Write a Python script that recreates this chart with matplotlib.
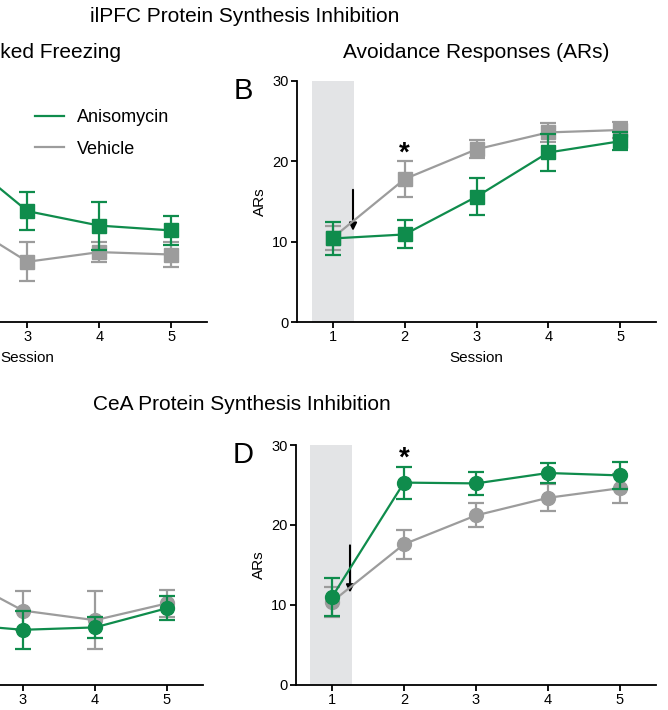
import matplotlib
matplotlib.use("Agg")
import matplotlib.pyplot as plt
from matplotlib.lines import Line2D
import numpy as np

plt.rcParams['font.family'] = ['Liberation Sans', 'DejaVu Sans']

W, H = 668, 710
GREEN = '#0f8c4c'
GRAY = '#9c9c9c'
SHADE = '#e3e4e6'

sessions = [1, 2, 3, 4, 5]
session_labels = ['1', '2', '3', '4', '5']
series_names = ['Anisomycin', 'Vehicle']

# Panel A: ilPFC freezing (%)
a_aniso = [62, 70.5, 46, 40, 38]
a_aniso_err = [8, 8, 8, 10, 6]
a_veh = [58, 43.6, 25, 29, 28]
a_veh_err = [7, 7, 8, 4, 5]

# Panel B: ilPFC ARs
b_aniso = [10.4, 10.9, 15.6, 21.1, 22.5]
b_aniso_err = [2.1, 1.75, 2.3, 2.3, 1.1]
b_veh = [10.5, 17.8, 21.5, 23.6, 23.9]
b_veh_err = [1.5, 2.2, 1.1, 1.2, 1.0]

# Panel C: CeA freezing (%)
c_aniso = [60, 25.5, 23, 24, 32]
c_aniso_err = [8, 6, 8, 4.5, 5]
c_veh = [58, 47, 31, 27, 34]
c_veh_err = [8, 8, 8, 12, 5.5]

# Panel D: CeA ARs
d_aniso = [11.0, 25.3, 25.2, 26.5, 26.2]
d_aniso_err = [2.4, 2.0, 1.4, 1.3, 1.7]
d_veh = [10.4, 17.6, 21.2, 23.4, 24.6]
d_veh_err = [1.9, 1.8, 1.5, 1.7, 1.8]

fig = plt.figure(figsize=(W / 100, H / 100), dpi=100)


def ax_px(left, right, top, bottom):
    return fig.add_axes([left / W, 1 - bottom / H, (right - left) / W, (bottom - top) / H])


def style(ax, ylim, yticks, cropped=False):
    ax.set_xlim(0.5, 5.5)
    ax.set_ylim(*ylim)
    ax.set_xticks(sessions)
    ax.set_yticks(yticks)
    if cropped:
        # labels lying outside the visible (cropped) region are left blank
        ax.set_yticklabels([])
        ax.set_xticklabels(['', ''] + session_labels[2:])
    else:
        ax.set_xticklabels(session_labels)
    for s in ['top', 'right']:
        ax.spines[s].set_visible(False)
    for s in ['left', 'bottom']:
        ax.spines[s].set_linewidth(1.3)
    ax.tick_params(direction='out', length=4, width=1.3, labelsize=10.5, pad=2)
    ax.patch.set_alpha(0)


def draw(ax, aniso, aerr, veh, verr, marker):
    ax.errorbar(sessions, veh, yerr=verr, color=GRAY, marker=marker, markersize=10,
                lw=1.6, elinewidth=1.6, capsize=6, capthick=1.6, zorder=3)
    ax.errorbar(sessions, aniso, yerr=aerr, color=GREEN, marker=marker, markersize=10,
                lw=1.6, elinewidth=1.6, capsize=6, capthick=1.6, zorder=4)


# Panel A (mostly cropped)
axA = ax_px(-152, 207, 81, 322)
style(axA, (0, 100), [0, 25, 50, 75, 100], cropped=True)
draw(axA, a_aniso, a_aniso_err, a_veh, a_veh_err, 's')
axA.set_xlabel('Session', fontsize=11, labelpad=5)

# Panel B
axB = ax_px(297, 656, 81, 322)
style(axB, (0, 30), [0, 10, 20, 30])
axB.axvspan(0.71, 1.29, ymin=0, ymax=1.012, color=SHADE, zorder=0, lw=0)
draw(axB, b_aniso, b_aniso_err, b_veh, b_veh_err, 's')
axB.set_xlabel('Session', fontsize=11, labelpad=5)
axB.set_ylabel('ARs', fontsize=11, labelpad=4)
axB.annotate('', xy=(1.28, 11.0), xytext=(1.28, 16.8),
             arrowprops=dict(arrowstyle='-|>', color='black', lw=1.5, mutation_scale=11))
axB.text(2, 21.0, '*', ha='center', va='center', fontsize=20, fontweight='bold')

# Panel C (mostly cropped)
axC = ax_px(-157, 203, 445, 685)
style(axC, (0, 100), [0, 25, 50, 75, 100], cropped=True)
draw(axC, c_aniso, c_aniso_err, c_veh, c_veh_err, 'o')

# Panel D
axD = ax_px(296, 656, 445, 685)
style(axD, (0, 30), [0, 10, 20, 30])
axD.axvspan(0.7, 1.28, ymin=0, ymax=1.006, color=SHADE, zorder=0, lw=0)
draw(axD, d_aniso, d_aniso_err, d_veh, d_veh_err, 'o')
axD.set_ylabel('ARs', fontsize=11, labelpad=4)
axD.annotate('', xy=(1.25, 11.2), xytext=(1.25, 17.8),
             arrowprops=dict(arrowstyle='-|>', color='black', lw=1.5, mutation_scale=11))
axD.text(2, 28.3, '*', ha='center', va='center', fontsize=20, fontweight='bold')

# Legend in panel A
handles = [Line2D([], [], color=GREEN, lw=1.6), Line2D([], [], color=GRAY, lw=1.6)]
fig.legend(handles, series_names, loc='center left', frameon=False, fontsize=13,
           bbox_to_anchor=(28 / W, 1 - 133.5 / H), handlelength=1.6, handletextpad=0.7,
           labelspacing=0.8, borderaxespad=0)


def ftext(x, y, s, **kw):
    fig.text(x / W, 1 - y / H, s, **kw)


ftext(245, 16, 'ilPFC Protein Synthesis Inhibition', ha='center', va='center', fontsize=15)
ftext(121, 52, 'Shock-Evoked Freezing', ha='right', va='center', fontsize=15)
ftext(476, 52, 'Avoidance Responses (ARs)', ha='center', va='center', fontsize=15)
ftext(242, 405, 'CeA Protein Synthesis Inhibition', ha='center', va='center', fontsize=15)
ftext(243, 91, 'B', ha='center', va='center', fontsize=21)
ftext(243, 455, 'D', ha='center', va='center', fontsize=21)

fig.savefig('out.png', dpi=100)
